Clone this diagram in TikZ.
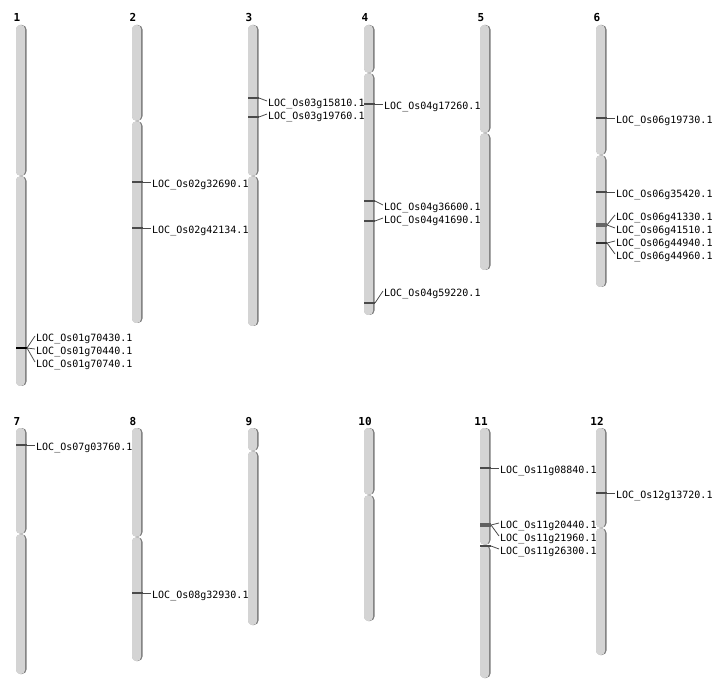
\documentclass[tikz,border=0pt]{standalone}
\usepackage{fontspec}
\setmonofont{DejaVu Sans Mono}
\definecolor{chfill}{HTML}{D4D4D4}
\definecolor{chshadow}{HTML}{7A7A7A}
\definecolor{mkcol}{HTML}{4A4A4A}
\tikzset{
  lbl/.style={anchor=west,inner sep=0pt,yshift=-1.8pt,font=\ttfamily\fontsize{10}{12}\selectfont},
  num/.style={anchor=base,inner sep=0pt,font=\ttfamily\bfseries\fontsize{11}{13}\selectfont},
  mline/.style={draw=mkcol,line width=1.2pt},
  cline/.style={draw=mkcol,line width=0.8pt},
}
\newcommand\chromarm[3]{%
  \fill[chshadow,rounded corners=4.5pt] (#1,#2) rectangle (#1+10.5,#3);
  \fill[chfill,rounded corners=4pt] (#1,#2) rectangle (#1+9,#3);
}
\newcommand\chromo[5]{% name, x, top, cen, bottom
  \chromarm{#2}{#3}{#4-0.3}
  \chromarm{#2}{#4+0.3}{#5}
  \coordinate (#1) at (#2,#3);
}
% label node with connector end point
\newcommand\lab[4]{% name, x, label y, text
  \node[lbl] (#1) at (#2+20,#3) {#4};
  \coordinate (#1e) at (#2+19,#3-1);
}
\newcommand\mk[5]{% name, x, marker y, label y, text
  \lab{#1}{#2}{#4}{#5}
  \draw[mline] (#2,#3) -- (#2+11,#3) coordinate (#1m);
  \draw[cline] (#1m) -- (#1e);
}
\begin{document}
\begin{tikzpicture}[x=1pt,y=-1pt]
\useasboundingbox (0,0) rectangle (712,700);
% row 1
\chromo{c1}{16}{25}{176}{386}
\chromo{c2}{132}{25}{121}{323}
\chromo{c3}{248}{25}{176}{326}
\chromo{c4}{364}{25}{73}{315}
\chromo{c5}{480}{25}{133}{270}
\chromo{c6}{596}{25}{155}{287}
% row 2
\chromo{c7}{16}{428}{534}{674}
\chromo{c8}{132}{428}{537}{661}
\chromo{c9}{248}{428}{451}{625}
\chromo{c10}{364}{428}{495}{621}
\chromo{c11}{480}{428}{545}{678}
\chromo{c12}{596}{428}{528}{655}
% numbers
\node[num] (n1) at (17,22) {1};
\node[num] (n2) at (133,22) {2};
\node[num] (n3) at (249,22) {3};
\node[num] (n4) at (365,22) {4};
\node[num] (n5) at (481,22) {5};
\node[num] (n6) at (597,22) {6};
\node[num] (n7) at (17,425) {7};
\node[num] (n8) at (133,425) {8};
\node[num] (n9) at (249,425) {9};
\node[num] (n10) at (365,425) {10};
\node[num] (n11) at (481,425) {11};
\node[num] (n12) at (597,425) {12};
% chr 1
\draw[line width=2.4pt,black] (16,348) -- (27,348) coordinate (m1);
\lab{g1a}{16}{337}{LOC\_Os01g70430.1}
\lab{g1b}{16}{350}{LOC\_Os01g70440.1}
\lab{g1c}{16}{363}{LOC\_Os01g70740.1}
\draw[cline] (m1) -- (g1ae);
\draw[cline] (m1) -- (g1be);
\draw[cline] (m1) -- (g1ce);
% chr 2
\mk{g2a}{132}{182}{183}{LOC\_Os02g32690.1}
\mk{g2b}{132}{228}{229}{LOC\_Os02g42134.1}
% chr 3
\mk{g3a}{248}{98}{102}{LOC\_Os03g15810.1}
\mk{g3b}{248}{117}{115}{LOC\_Os03g19760.1}
% chr 4
\mk{g4a}{364}{104}{105}{LOC\_Os04g17260.1}
\mk{g4b}{364}{201}{206}{LOC\_Os04g36600.1}
\mk{g4c}{364}{221}{219}{LOC\_Os04g41690.1}
\mk{g4d}{364}{303}{292}{LOC\_Os04g59220.1}
% chr 6
\mk{g6a}{596}{118}{119}{LOC\_Os06g19730.1}
\mk{g6b}{596}{192}{193}{LOC\_Os06g35420.1}
\draw[line width=3.2pt,draw=gray!80!black] (596,225) -- (607,225) coordinate (m6a);
\lab{g6c}{596}{216}{LOC\_Os06g41330.1}
\lab{g6d}{596}{229}{LOC\_Os06g41510.1}
\draw[cline] (m6a) -- (g6ce);
\draw[cline] (m6a) -- (g6de);
\draw[line width=2pt,draw=black!80] (596,243) -- (607,243) coordinate (m6b);
\lab{g6e}{596}{242}{LOC\_Os06g44940.1}
\lab{g6f}{596}{255}{LOC\_Os06g44960.1}
\draw[cline] (m6b) -- (g6ee);
\draw[cline] (m6b) -- (g6fe);
% chr 7, 8
\mk{g7a}{16}{445}{446}{LOC\_Os07g03760.1}
\mk{g8a}{132}{593}{594}{LOC\_Os08g32930.1}
% chr 11
\mk{g11a}{480}{468}{469}{LOC\_Os11g08840.1}
\draw[line width=3.6pt,draw=gray!75!black] (480,525) -- (491,525) coordinate (m11);
\lab{g11b}{480}{524}{LOC\_Os11g20440.1}
\lab{g11c}{480}{537}{LOC\_Os11g21960.1}
\draw[cline] (m11) -- (g11be);
\draw[cline] (m11) -- (g11ce);
\mk{g11d}{480}{546}{550}{LOC\_Os11g26300.1}
% chr 12
\mk{g12a}{596}{493}{494}{LOC\_Os12g13720.1}
\end{tikzpicture}
\end{document}
